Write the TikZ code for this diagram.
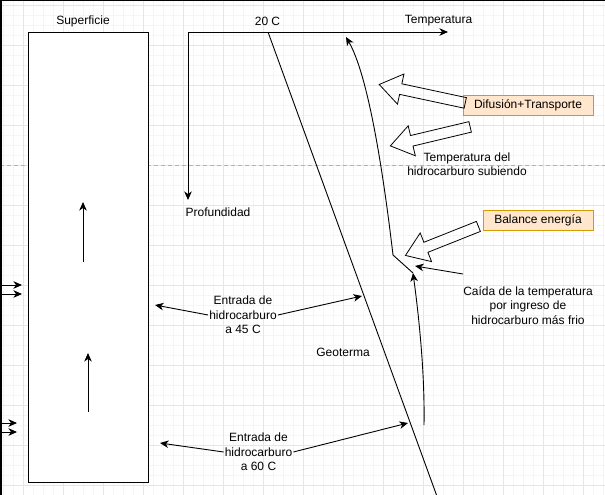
\documentclass[tikz,border=0pt]{standalone}
\usepackage{fontspec}
\setmainfont{Liberation Sans}
\usetikzlibrary{arrows.meta,shapes.arrows}
\definecolor{gridmaj}{HTML}{E6E6E6}
\definecolor{gridmin}{HTML}{F5F5F5}
\definecolor{dashgray}{HTML}{B3B3B3}
\definecolor{oborder}{HTML}{D79B00}
\definecolor{ofill}{HTML}{FFE6CC}
\begin{document}
\begin{tikzpicture}[x=1pt,y=-1pt,
  every node/.style={font=\fontsize{12}{14.4}\selectfont, inner sep=1pt},
  lbl/.style={align=center},
  ln/.style={line width=0.9pt},
  arr/.style={ln,-{Stealth[length=8.5pt,width=7.5pt,inset=2.5pt]}},
  obox/.style={draw=oborder, fill=ofill, line width=0.9pt, inner sep=0pt, minimum height=20pt},
  barrow/.style={single arrow, draw, line width=0.8pt, inner sep=5pt,
                 single arrow head extend=10pt, single arrow tip angle=70, minimum width=0pt}
]
\useasboundingbox (0,0) rectangle (605,495);
% grid
\foreach \x in {3,13,...,603} \draw[gridmin, line width=0.8pt] (\x,0) -- (\x,495);
\foreach \y in {5,15,...,495} \draw[gridmin, line width=0.8pt] (0,\y) -- (605,\y);
\foreach \x in {23,63,...,603} \draw[gridmaj, line width=0.9pt] (\x,0) -- (\x,495);
\foreach \y in {5,45,...,485} \draw[gridmaj, line width=0.9pt] (0,\y) -- (605,\y);
% dashed separator
\coordinate (dsL) at (0,165); \coordinate (dsR) at (605,165);
\draw[dashgray, line width=0.8pt, dash pattern=on 4pt off 3pt] (dsL) -- (dsR);
% page borders
\coordinate (c00) at (0,0.75); \coordinate (c10) at (605,0.75);
\coordinate (c01) at (0.75,0); \coordinate (c02) at (0.75,495);
\draw[line width=1.5pt] (c00) -- (c10);
\draw[line width=1.5pt] (c01) -- (c02);

% well
\node[draw, fill=white, line width=1pt, inner sep=0pt, minimum width=120pt, minimum height=449.5pt] (well) at (88.5,257.25) {};
\node (sup) at (83,21) {Superficie};
\coordinate (w1a) at (83,262); \coordinate (w1b) at (83,202);
\coordinate (w2a) at (88,412); \coordinate (w2b) at (88,353);
\draw[arr] (w1a) -- (w1b);
\draw[arr] (w2a) -- (w2b);

% left incoming arrows
\coordinate (la1) at (0,285); \coordinate (lb1) at (22,285);
\coordinate (la2) at (0,294); \coordinate (lb2) at (22,294);
\coordinate (la3) at (0,423); \coordinate (lb3) at (17,423);
\coordinate (la4) at (0,432); \coordinate (lb4) at (17,432);
\draw[arr] (la1) -- (lb1);
\draw[arr] (la2) -- (lb2);
\draw[arr] (la3) -- (lb3);
\draw[arr] (la4) -- (lb4);

% axes
\coordinate (orig) at (188,32);
\coordinate (xend) at (448,32);
\coordinate (yend) at (188,200);
\draw[arr] (orig) -- (xend);
\draw[arr] (orig) -- (yend);
\node (temp) at (438.5,21) {Temperatura};
\node (t20) at (267.5,21) {20 C};
\node (prof) at (218,212) {Profundidad};

% geotherm
\coordinate (g0) at (268,32);
\coordinate (g1) at (436.5,495);
\draw[ln] (g0) -- (g1);
\node (geo) at (343,352) {Geoterma};

% hydrocarbon temperature path
\coordinate (h0) at (424,425);
\coordinate (h1) at (413,273);
\coordinate (h2) at (393,255);
\coordinate (h3) at (346,37);
\draw[arr] (h0) .. controls (425,370) and (418,310) .. (h1);
\draw[arr] (h1) -- (h2) .. controls (383,170) and (368,75) .. (h3);

% labels and boxes
\node[obox, minimum width=130pt] (dif) at (528,105) {Difusión+Transporte};
\node[obox, minimum width=110pt] (bal) at (538,220) {Balance energía};
\node[lbl] (tsub) at (467,164.5) {Temperatura del\\hidrocarburo subiendo};
\node[lbl] (caida) at (528,305.5) {Caída de la temperatura\\por ingreso de\\hidrocarburo más frio};
\coordinate (cs) at (463,274);
\coordinate (ct) at (415,266);
\draw[arr] (cs) -- (ct);

% block arrows
\node[barrow, rotate=167.9, minimum height=88pt] (ba1) at (426,94.5) {};
\node[barrow, rotate=193.4, minimum height=82pt] (ba2) at (434,135.5) {};
\node[barrow, rotate=201.7, minimum height=78.5pt] (ba3) at (445.5,239.5) {};

% entrada arrows
\node[lbl] (e45) at (243,315) {Entrada de\\hidrocarburo\\a 45 C};
\coordinate (t45l) at (155,305); \coordinate (t45r) at (362,296);
\draw[arr] (e45.west) -- (t45l);
\draw[arr] (e45.east) -- (t45r);
\node[lbl] (e60) at (258.5,452) {Entrada de\\hidrocarburo\\a 60 C};
\coordinate (t60l) at (160,443); \coordinate (t60r) at (408,423);
\draw[arr] (e60.west) -- (t60l);
\draw[arr] (e60.east) -- (t60r);
\end{tikzpicture}
\end{document}
